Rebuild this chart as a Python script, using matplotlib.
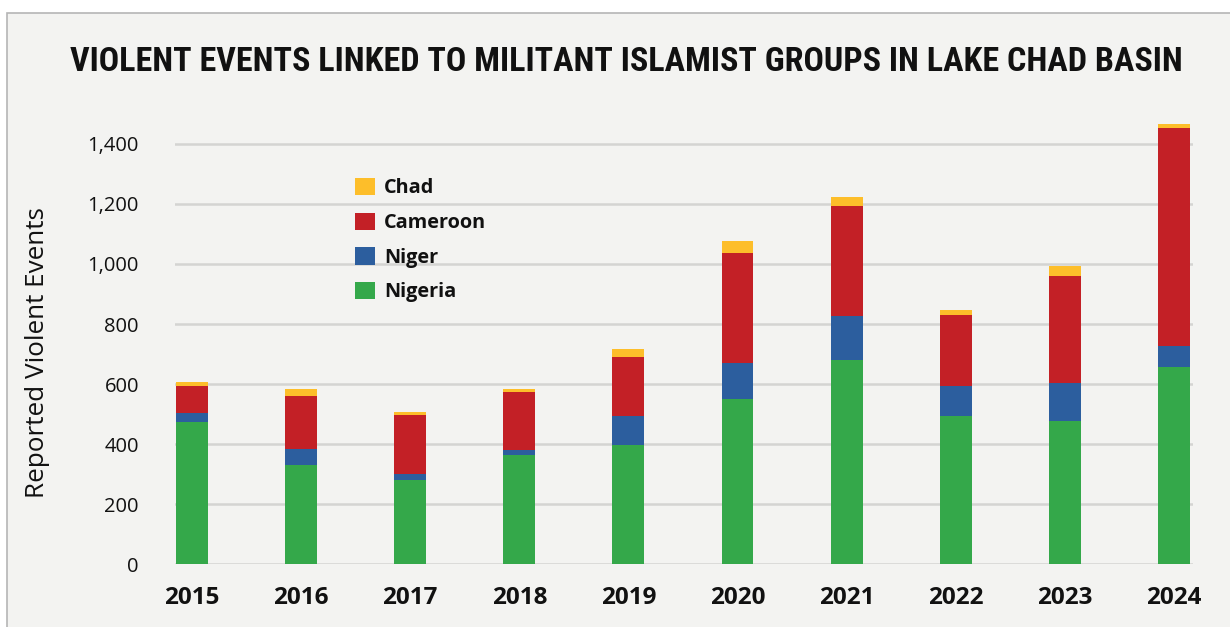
import matplotlib
matplotlib.use("Agg")
import matplotlib.pyplot as plt
from matplotlib import font_manager
from matplotlib.patches import Rectangle, Patch
import numpy as np

years = ["2015", "2016", "2017", "2018", "2019", "2020", "2021", "2022", "2023", "2024"]
nigeria = [473, 330, 280, 363, 397, 550, 680, 493, 477, 657]
niger = [29, 52, 20, 17, 96, 120, 148, 101, 126, 71]
cameroon = [91, 178, 197, 193, 196, 367, 365, 236, 357, 725]
chad = [14, 23, 10, 10, 27, 40, 30, 17, 33, 14]

series_names = ["Nigeria", "Niger", "Cameroon", "Chad"]
series_colors = ["#34a84a", "#2c5e9e", "#c32026", "#fdbe2a"]

title = "VIOLENT EVENTS LINKED TO MILITANT ISLAMIST GROUPS IN LAKE CHAD BASIN"
ylabel = "Reported Violent Events"
yticks = [0, 200, 400, 600, 800, 1000, 1200, 1400]

available = {f.name for f in font_manager.fontManager.ttflist}
cond = None
for cand in ["Liberation Sans Narrow", "DejaVu Sans Condensed", "Roboto Condensed", "Open Sans Condensed"]:
    if cand in available:
        cond = cand
        break
if cond is None:
    cond = "Roboto"
main_font = "Open Sans" if "Open Sans" in available else "DejaVu Sans"

plt.rcParams['font.family'] = [main_font, 'DejaVu Sans']

W, H = 1230, 627
fig = plt.figure(figsize=(W / 100, H / 100), dpi=100)
fig.patch.set_facecolor("white")

bg = "#f3f3f1"
fig.patches.append(Rectangle((7 / W, -0.05), 1 - 7 / W + 0.05, 1.05 - 13 / H, transform=fig.transFigure,
                             facecolor=bg, edgecolor="#b5b5b5", linewidth=1.2, zorder=-5))

ax = fig.add_axes([175 / W, (H - 564) / H, 1018 / W, 444 / H])
ax.set_facecolor("none")
ax.set_zorder(2)

x = np.arange(len(years))
width = 0.293
bottom = np.zeros(len(years))
for name, vals, col in zip(series_names, [nigeria, niger, cameroon, chad], series_colors):
    ax.bar(x, vals, width=width, bottom=bottom, color=col, label=name, zorder=3, linewidth=0)
    bottom += np.array(vals)

ax.set_xlim(-0.156, 9.175)
ax.set_ylim(0, 1480)
ax.set_yticks(yticks)
ax.set_yticklabels([f"{v:,}" for v in yticks], fontsize=14.5, color="#111111")
ax.set_xticks(x)
ax.set_xticklabels(years, fontsize=17.5, fontweight="bold", color="#111111")
ax.tick_params(axis="y", length=0, pad=26)
ax.tick_params(axis="x", length=0, pad=16)
for s in ax.spines.values():
    s.set_visible(False)
ax.yaxis.grid(True, color="#d4d4d2", linewidth=1.8, zorder=0)
ax.set_axisbelow(True)

fig.text(38 / W, 1 - 353 / H, ylabel, rotation=90, ha="center", va="center",
         fontsize=18.8, color="#111111")

t = fig.text(626 / W, 1 - 62 / H, title, ha="center", va="center", fontsize=30,
             fontweight="bold", family=[cond, 'DejaVu Sans'], color="#111111")
fig.canvas.draw()
bb = t.get_window_extent(fig.canvas.get_renderer())
t.set_fontsize(30 * 1108 / bb.width)

handles = [Patch(facecolor=c, edgecolor="none") for c in series_colors][::-1]
labels = series_names[::-1]
leg = ax.legend(handles, labels, loc="upper left", bbox_to_anchor=(355 / W, 1 - 178 / H),
                bbox_transform=fig.transFigure, frameon=False, borderpad=0, borderaxespad=0,
                handlelength=1.0, handleheight=0.95, handletextpad=0.45, labelspacing=0.72,
                prop={"weight": "bold", "size": 14.3})
for txt in leg.get_texts():
    txt.set_color("#111111")

fig.savefig("out.png", dpi=100, facecolor=fig.get_facecolor())
